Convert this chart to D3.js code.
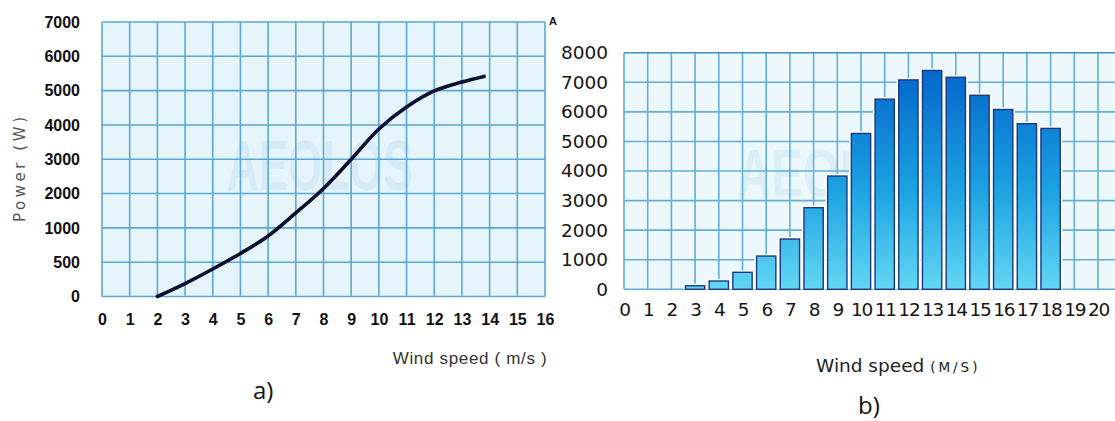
<!DOCTYPE html>
<html>
<head>
<meta charset="utf-8">
<script src="https://cdn.jsdelivr.net/npm/d3@7"></script>
<style>
  html, body { margin: 0; padding: 0; background: #fff; }
  svg { display: block; }
</style>
</head>
<body>
<svg id="chart" width="1115" height="421"></svg>
<script>
// ---- (a) power curve ----
const curveSpeed = [2, 3, 4, 5, 6, 7, 8, 9, 10, 11, 12, 13, 13.8];
const curvePower = [0, 189, 401, 627, 882, 1434, 2149, 3000, 3883, 4522, 4990, 5250, 5414];
const powerTicksA = [0, 500, 1000, 2000, 3000, 4000, 5000, 6000, 7000];
const speedTicksA = [0, 1, 2, 3, 4, 5, 6, 7, 8, 9, 10, 11, 12, 13, 14, 15, 16];

// ---- (b) power bars ----
const barSpeed = [3, 4, 5, 6, 7, 8, 9, 10, 11, 12, 13, 14, 15, 16, 17, 18];
const barPower = [120, 280, 575, 1125, 1700, 2760, 3830, 5270, 6430, 7080, 7400, 7170, 6560, 6080, 5600, 5440];
const powerTicksB = [0, 1000, 2000, 3000, 4000, 5000, 6000, 7000, 8000];
const speedTicksB = [0, 1, 2, 3, 4, 5, 6, 7, 8, 9, 10, 11, 12, 13, 14, 15, 16, 17, 18, 19, 20];

const svg = d3.select("#chart");

// =================== panel (a) ===================
const A = { left: 102, right: 545, top: 22, bottom: 296.5 };
const xA = d3.scaleLinear().domain([0, 16]).range([A.left, A.right]);
// the vertical axis is evenly spaced per tick, so the scale is piecewise linear
const stepA = (A.bottom - A.top) / (powerTicksA.length - 1);
const yA = d3.scaleLinear()
  .domain(powerTicksA)
  .range(powerTicksA.map((d, i) => A.bottom - i * stepA));

const gA = svg.append("g");
gA.append("rect")
  .attr("x", A.left).attr("y", A.top)
  .attr("width", A.right - A.left).attr("height", A.bottom - A.top)
  .attr("fill", "#e6f4fc");

// watermark
gA.append("text")
  .attr("x", 227).attr("y", 190)
  .attr("textLength", 186).attr("lengthAdjust", "spacingAndGlyphs")
  .attr("font-family", "Liberation Sans Narrow, Liberation Sans").attr("font-weight", "bold")
  .attr("font-size", 70).attr("fill", "#d5ecf8")
  .text("AEOLOS");

const gridColA = "#5aa8d4";
gA.append("g").selectAll("line").data(speedTicksA).join("line")
  .attr("x1", d => xA(d)).attr("x2", d => xA(d))
  .attr("y1", A.top).attr("y2", A.bottom)
  .attr("stroke", gridColA).attr("stroke-width", 1.6);
gA.append("g").selectAll("line").data(powerTicksA).join("line")
  .attr("x1", A.left).attr("x2", A.right)
  .attr("y1", d => yA(d)).attr("y2", d => yA(d))
  .attr("stroke", gridColA).attr("stroke-width", 1.6);

// axes (labels only)
const axA_y = gA.append("g").attr("transform", `translate(${A.left},0)`)
  .call(d3.axisLeft(yA).tickValues(powerTicksA).tickSize(0).tickPadding(22).tickFormat(d => d));
const axA_x = gA.append("g").attr("transform", `translate(0,${A.bottom})`)
  .call(d3.axisBottom(xA).tickValues(speedTicksA).tickSize(0).tickPadding(17).tickFormat(d => d));
[axA_y, axA_x].forEach(ax => {
  ax.select(".domain").remove();
  ax.selectAll("text")
    .attr("font-family", "Liberation Sans").attr("font-weight", "bold")
    .attr("font-size", 16).attr("fill", "#111");
});

// curve
const lineA = d3.line()
  .x((d, i) => xA(curveSpeed[i]))
  .y(d => yA(d))
  .curve(d3.curveCatmullRom.alpha(0.5));
gA.append("path")
  .datum(curvePower)
  .attr("d", lineA)
  .attr("fill", "none")
  .attr("stroke", "#0c0f2e")
  .attr("stroke-width", 3.6)
  .attr("stroke-linecap", "round");

// titles
gA.append("text")
  .attr("transform", "translate(25,222) rotate(-90)")
  .attr("textLength", 105)
  .attr("font-family", "DejaVu Sans").attr("font-size", 15).attr("fill", "#555")
  .text("Power (W)");
gA.append("text")
  .attr("x", 392.7).attr("y", 364)
  .attr("textLength", 154)
  .attr("font-family", "Liberation Sans").attr("font-size", 17).attr("fill", "#333")
  .text("Wind speed ( m/s )");
gA.append("text")
  .attr("x", 253).attr("y", 399)
  .attr("font-family", "Open Sans").attr("font-size", 24).attr("fill", "#111")
  .text("a)");
gA.append("text")
  .attr("x", 549).attr("y", 25)
  .attr("font-family", "Liberation Sans").attr("font-weight", "bold")
  .attr("font-size", 11).attr("fill", "#111")
  .text("A");

// =================== panel (b) ===================
const B = { left: 624, right: 1115, top: 52.7, bottom: 289.3 };
const xB = d3.scaleLinear().domain([0, 20]).range([B.left, 1098]);
const yB = d3.scaleLinear().domain([0, 8000]).range([B.bottom, B.top]);
const barW = 19.3;

const gB = svg.append("g");
gB.append("rect")
  .attr("x", B.left).attr("y", B.top)
  .attr("width", B.right - B.left).attr("height", B.bottom - B.top)
  .attr("fill", "#edf8fd");

gB.append("text")
  .attr("x", 737).attr("y", 196)
  .attr("textLength", 200).attr("lengthAdjust", "spacingAndGlyphs")
  .attr("font-family", "Liberation Sans Narrow, Liberation Sans").attr("font-weight", "bold")
  .attr("font-size", 66).attr("fill", "#dbeff9")
  .text("AEOLOS");

const gridColB = "#63aed8";
gB.append("g").selectAll("line").data(speedTicksB).join("line")
  .attr("x1", d => xB(d)).attr("x2", d => xB(d))
  .attr("y1", B.top).attr("y2", B.bottom)
  .attr("stroke", gridColB).attr("stroke-width", 1.6);
gB.append("g").selectAll("line").data(powerTicksB).join("line")
  .attr("x1", B.left).attr("x2", B.right)
  .attr("y1", d => yB(d)).attr("y2", d => yB(d))
  .attr("stroke", d => d === 8000 ? "#3d93c8" : gridColB)
  .attr("stroke-width", 1.6);

// bar gradient
const defs = svg.append("defs");
const grad = defs.append("linearGradient").attr("id", "barFill")
  .attr("gradientUnits", "userSpaceOnUse")
  .attr("x1", 0).attr("x2", 0).attr("y1", yB(7400)).attr("y2", B.bottom);
grad.append("stop").attr("offset", "0%").attr("stop-color", "#0466cc");
grad.append("stop").attr("offset", "55%").attr("stop-color", "#1ca3e1");
grad.append("stop").attr("offset", "100%").attr("stop-color", "#63d7f4");

const bars = gB.append("g").selectAll("g").data(barPower).join("g");
// white halo around each bar
bars.append("rect")
  .attr("x", (d, i) => xB(barSpeed[i]) - barW / 2 - 2.2)
  .attr("y", d => yB(d) - 2)
  .attr("width", barW + 4.4)
  .attr("height", d => B.bottom - yB(d) + 2)
  .attr("fill", "#ffffff");
bars.append("rect")
  .attr("x", (d, i) => xB(barSpeed[i]) - barW / 2)
  .attr("y", d => yB(d))
  .attr("width", barW)
  .attr("height", d => B.bottom - yB(d))
  .attr("fill", "url(#barFill)")
  .attr("stroke", "#1a3780")
  .attr("stroke-width", 1.4);

const axB_y = gB.append("g").attr("transform", `translate(${B.left},0)`)
  .call(d3.axisLeft(yB).tickValues(powerTicksB).tickSize(0).tickPadding(16).tickFormat(d => d));
const axB_x = gB.append("g").attr("transform", `translate(0,${B.bottom})`)
  .call(d3.axisBottom(xB).tickValues(speedTicksB).tickSize(0).tickPadding(13.5).tickFormat(d => d));
[axB_y, axB_x].forEach(ax => {
  ax.select(".domain").remove();
  ax.selectAll("text")
    .attr("font-family", "DejaVu Sans")
    .attr("font-size", 18.5).attr("fill", "#151515");
});
axB_x.selectAll("text").attr("letter-spacing", -1.2);

// x title with small-caps unit
const tB = gB.append("text")
  .attr("x", 816).attr("y", 372)
  .attr("font-family", "DejaVu Sans").attr("fill", "#222");
tB.append("tspan").attr("font-size", 18.5).text("Wind speed ");
tB.append("tspan").attr("font-size", 13.5).attr("letter-spacing", 3).text("(M/S)");

gB.append("text")
  .attr("x", 858).attr("y", 414)
  .attr("font-family", "Open Sans").attr("font-size", 24).attr("fill", "#111")
  .text("b)");
</script>
</body>
</html>
